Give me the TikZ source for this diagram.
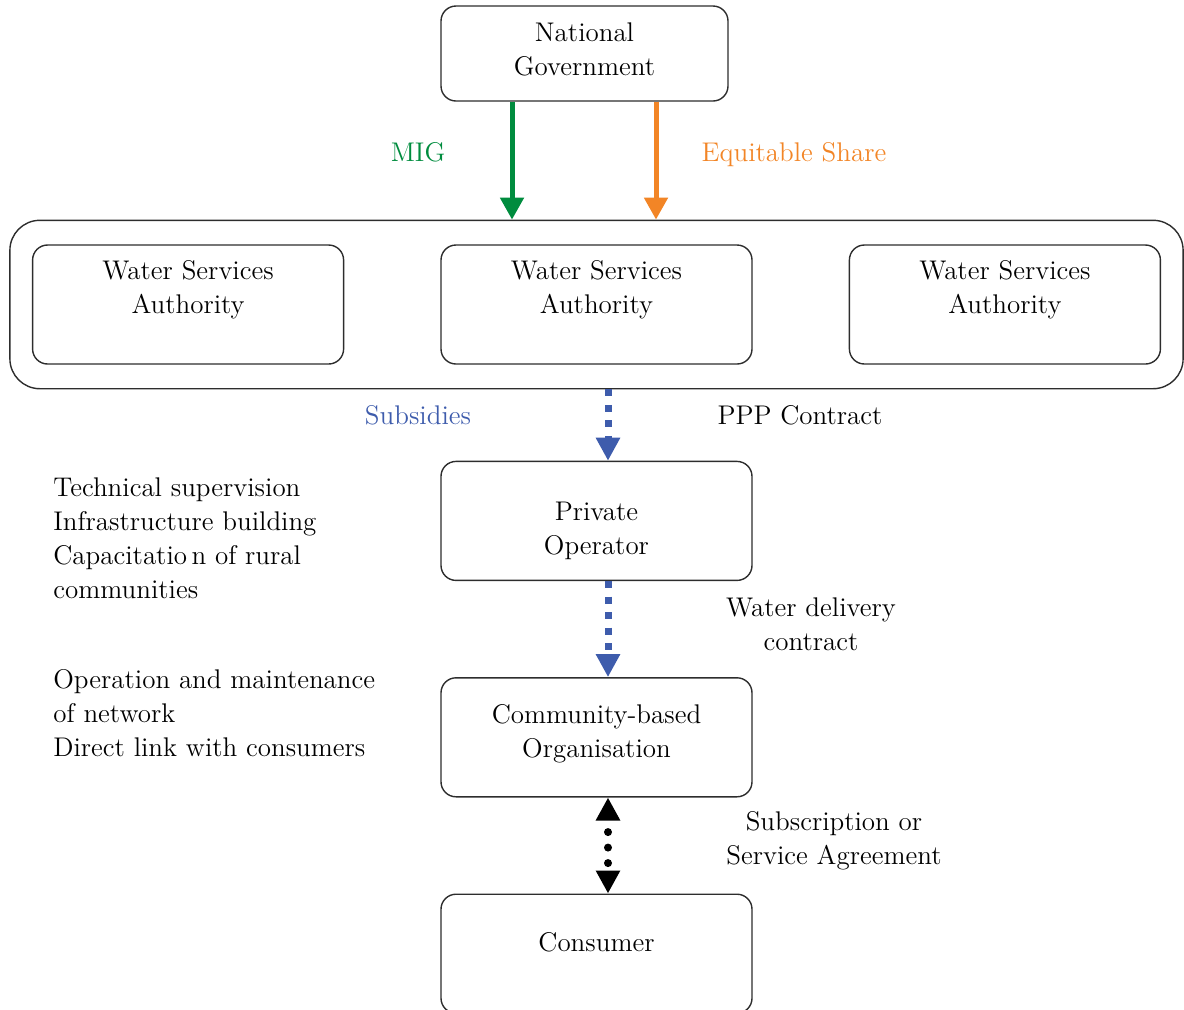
\documentclass[tikz,border=0pt]{standalone}
\usepackage{tikz}
\usetikzlibrary{positioning,arrows.meta,fit}

\definecolor{migGreen}{RGB}{0,140,62}
\definecolor{shareOrange}{RGB}{242,133,38}
\definecolor{subsBlue}{RGB}{62,92,172}
\definecolor{boxGray}{RGB}{45,45,45}

\begin{document}
\begin{tikzpicture}[
	    x=0.5pt, y=-0.5pt,
	    font=\fontsize{13.5}{17}\selectfont,
    	box/.style={
    		draw = boxGray,
    		line width = 0.7pt,
    		rounded corners = 7.5pt,
    		minimum width = 155.5pt,
    		minimum height = 59.5pt,
    		align = center,
    		inner sep = 0pt,
    	},
    	wsa box/.style={
    		box,
    		text depth = 18pt,
    	},
    	fund arrow/.style={
    		line width = 2.5pt,
    		-{Triangle[width=11.5pt,length=11pt]},
    	},
    	contract arrow/.style={
    		color = subsBlue,
    		line width = 3.5pt,
    		dash pattern = on 3.5pt off 4.25pt,
    		-{Triangle[width=11.5pt,length=11.5pt]},
    	},
    	link arrow/.style={
    		color = black,
    		line width = 4pt,
    		line cap = round,
    		dash pattern = on 0pt off 7.75pt,
    		dash phase = 1.25pt,
    		{Triangle[width=11.5pt,length=11.5pt]}-{Triangle[width=11.5pt,length=11.5pt]},
    	},
    	side text/.style={
    		anchor = west,
    		align = left,
    		inner xsep = 0pt,
    	},
	]

	\useasboundingbox (0,0) rectangle (1184,1009);

	\node[box, minimum width=143.5pt, minimum height=47.5pt, text depth=4pt] (gov) at (584.5,53.5) {National\\Government};

	\node[wsa box] (wsa2) at (596.5,304.5) {Water Services\\Authority};
	\node[wsa box, left=48pt of wsa2] (wsa1) {Water Services\\Authority};
	\node[wsa box, right=48pt of wsa2] (wsa3) {Water Services\\Authority};
	\node[draw=boxGray, line width=0.7pt, rounded corners=15pt, inner xsep=11pt, inner ysep=12pt, fit=(wsa1)(wsa3)] (wsaframe) {};

	\node[box, below=48pt of wsa2, text height=36.5pt] (private) {Private\\Operator};
	\node[box, below=48pt of private, text depth=6.6pt] (cbo) {Community-based\\Organisation};
	\node[box, below=48pt of cbo, text depth=12pt] (consumer) {Consumer};

	% funding from national level
	\draw[fund arrow, migGreen] ([xshift=-36.25pt]gov.south) -- ([xshift=-36.25pt]gov.south |- wsaframe.north);
	\draw[fund arrow, shareOrange] ([xshift=35.75pt]gov.south) -- ([xshift=35.75pt]gov.south |- wsaframe.north);
	\node[text=migGreen] (mig) at (418,152) {MIG};
	\node[text=shareOrange] (share) at (794,155) {Equitable Share};

	% contracts down the chain
	\draw[contract arrow] ([xshift=5.75pt]private.north |- wsaframe.south) -- ([xshift=5.75pt]private.north);
	\draw[contract arrow] ([xshift=5.75pt]private.south) -- ([xshift=5.75pt]cbo.north);
	\draw[link arrow] ([xshift=5.75pt]cbo.south) -- ([xshift=5.75pt]consumer.north);

	\node[text=subsBlue] (subs) at (418,415) {Subsidies};
	\node (ppp) at (800,415) {PPP Contract};
	\node[align=center] (delivery) at (811,624) {Water delivery\\contract};
	\node[align=center] (subscr) at (834,841) {Subscription or\\Service Agreement};

	\node[side text] (tasks) at (53,538.5) {Technical supervision\\Infrastructure building\\Capacitatio\,n of rural\\communities};
	\node[side text] (duties) at (53,713) {Operation and maintenance\\of network\\Direct link with consumers};

\end{tikzpicture}
\end{document}
